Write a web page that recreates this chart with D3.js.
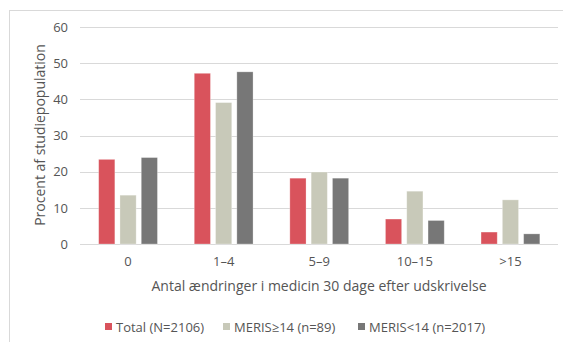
<!DOCTYPE html>
<html><head><meta charset="utf-8">
<script src="https://cdn.jsdelivr.net/npm/d3@7"></script>
<style>body{margin:0;background:#fff}svg{display:block}</style>
</head><body>
<script>
const categories = ["0", "1–4", "5–9", "10–15", ">15"];
const seriesNames = ["Total (N=2106)", "MERIS≥14 (n=89)", "MERIS<14 (n=2017)"];
const total = [23.4, 47.2, 18.2, 6.9, 3.3];
const merisHigh = [13.5, 39.1, 19.9, 14.6, 12.2];
const merisLow = [23.9, 47.6, 18.2, 6.5, 2.8];
const yTicks = [0, 10, 20, 30, 40, 50, 60];
const colors = ["#D9535C", "#C8C9B9", "#777777"];
const seriesValues = [total, merisHigh, merisLow];

const W = 563, H = 342;
const svg = d3.select("body").append("svg").attr("width", W).attr("height", H);
const font = "'Open Sans', 'Noto Sans', sans-serif";
const txt = "#555555";

// outer border
svg.append("rect").attr("x", 9.5).attr("y", 10.5).attr("width", W).attr("height", H)
  .attr("fill", "none").attr("stroke", "#D9D9D9").attr("stroke-width", 1);

const x0 = d3.scaleBand().domain(categories).range([80.5, 558]).paddingInner(0.385).paddingOuter(0.19);
const x1 = d3.scaleBand().domain(d3.range(3)).range([0, x0.bandwidth()]).paddingInner(0.24);
const y = d3.scaleLinear().domain([0, 60]).range([244, 27]);

// gridlines
svg.append("g").selectAll("line").data(yTicks).join("line")
  .attr("x1", 80).attr("x2", 558)
  .attr("y1", d => Math.round(y(d)) + 0.5).attr("y2", d => Math.round(y(d)) + 0.5)
  .attr("stroke", "#D9D9D9").attr("stroke-width", 1.2);

// y axis labels
const yAxis = d3.axisLeft(y).tickValues(yTicks).tickSize(0).tickPadding(0);
const gy = svg.append("g").attr("transform", "translate(68,0)").call(yAxis);
gy.select(".domain").remove();
gy.selectAll("text").attr("font-family", font).attr("font-size", 13).attr("fill", txt);

// bars
const groups = svg.append("g").selectAll("g").data(categories).join("g")
  .attr("transform", d => `translate(${x0(d)},0)`);
groups.selectAll("rect").data((d, i) => seriesValues.map((s, k) => ({k, v: s[i]}))).join("rect")
  .attr("x", d => x1(d.k)).attr("width", x1.bandwidth())
  .attr("y", d => y(d.v)).attr("height", d => y(0) - y(d.v))
  .attr("fill", d => colors[d.k])
  .attr("stroke", "#fff").attr("stroke-opacity", 0.35).attr("stroke-width", 0.8);

// x axis labels
const xAxis = d3.axisBottom(x0).tickSize(0).tickPadding(0);
const gx = svg.append("g").attr("transform", "translate(0,257)").call(xAxis);
gx.select(".domain").remove();
gx.selectAll("text").attr("font-family", font).attr("font-size", 13).attr("fill", txt);

// axis titles
svg.append("text").attr("x", 319).attr("y", 291).attr("text-anchor", "middle")
  .attr("font-family", font).attr("font-size", 14).attr("fill", txt)
  .text("Antal ændringer i medicin 30 dage efter udskrivelse");
svg.append("text").attr("transform", "translate(45,135) rotate(-90)").attr("text-anchor", "middle")
  .attr("font-family", font).attr("font-size", 14).attr("fill", txt)
  .text("Procent af studiepopulation");

// legend
const legX = [105, 223, 358];
const leg = svg.append("g").selectAll("g").data(seriesNames).join("g")
  .attr("transform", (d, i) => `translate(${legX[i]},323)`);
leg.append("rect").attr("width", 7).attr("height", 7).attr("fill", (d, i) => colors[i]);
leg.append("text").attr("x", 11).attr("y", 8.5).attr("font-family", font).attr("font-size", 13)
  .attr("fill", txt).text(d => d);
</script>
</body></html>
